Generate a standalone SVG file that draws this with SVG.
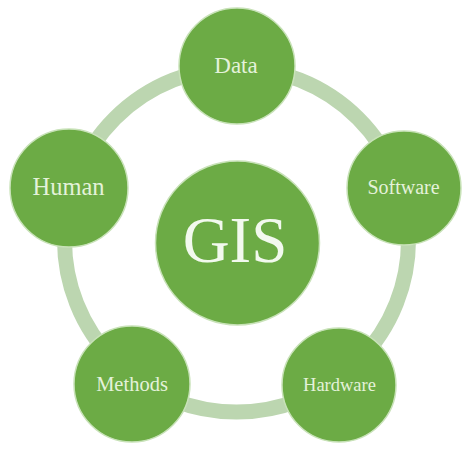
<svg xmlns="http://www.w3.org/2000/svg" width="474" height="454" viewBox="0 0 474 454">
<style>
.node{fill:#6cab45;stroke:#c8e2b8;stroke-width:1.5}
.lbl{font-family:"Liberation Serif","Times New Roman",serif;fill:#e4f2da;text-anchor:middle}
</style>
<rect width="474" height="454" fill="#ffffff"/>
<g id="connectors">
<circle cx="236.5" cy="240" r="172" fill="none" stroke="#bcd6b0" stroke-width="15"/>
</g>
<g id="gis">
<circle class="node" cx="237.5" cy="243" r="82"/>
<text class="lbl" x="235" y="262" font-size="65" style="fill:#f2f9ee">GIS</text>
</g>
<g id="data">
<circle class="node" cx="237" cy="66" r="58"/>
<text class="lbl" x="236" y="73" font-size="23">Data</text>
</g>
<g id="software">
<circle class="node" cx="404" cy="188" r="57"/>
<text class="lbl" x="403.5" y="194" font-size="20">Software</text>
</g>
<g id="hardware">
<circle class="node" cx="339" cy="385" r="57"/>
<text class="lbl" x="339.5" y="391" font-size="18.5">Hardware</text>
</g>
<g id="methods">
<circle class="node" cx="132" cy="384" r="58"/>
<text class="lbl" x="132" y="391" font-size="20.5">Methods</text>
</g>
<g id="human">
<circle class="node" cx="69" cy="188" r="59"/>
<text class="lbl" x="68.5" y="195" font-size="24.5">Human</text>
</g>
</svg>
